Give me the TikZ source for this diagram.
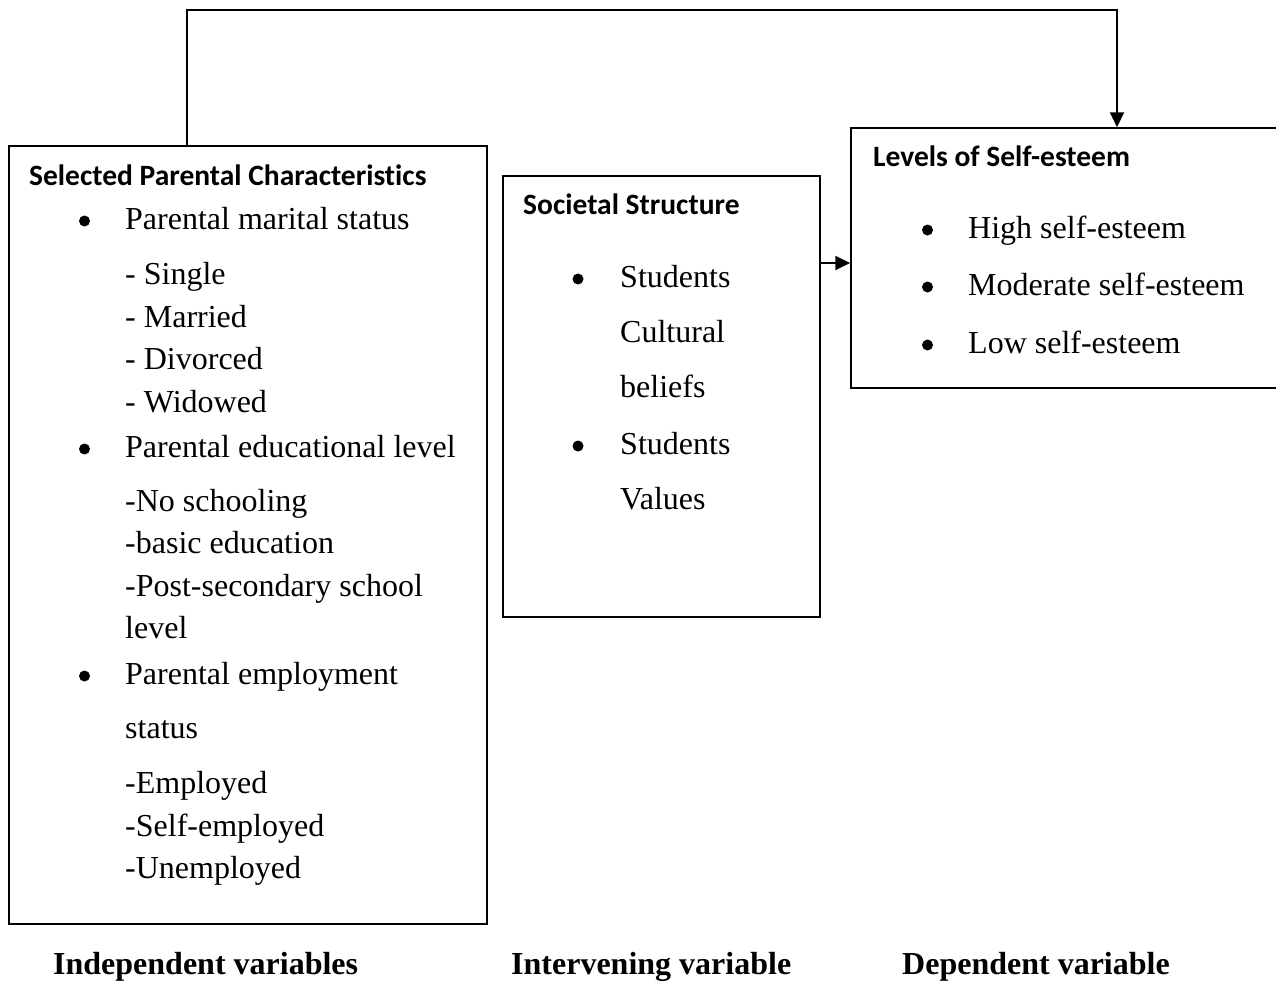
\documentclass[tikz,border=0pt]{standalone}
\usepackage{fontspec}
\setmainfont{Liberation Serif}
\newfontfamily\calibri[Ligatures={NoCommon}]{Carlito}
\usetikzlibrary{arrows.meta}
\tikzset{
  box/.style={draw, line width=1.5pt, rectangle, inner sep=0pt},
  body/.style={anchor=base west, inner sep=0pt, font=\fontsize{32}{38}\selectfont},
  head/.style={anchor=base west, inner sep=0pt, font=\calibri\bfseries\fontsize{29.5}{35}\selectfont},
  foot/.style={anchor=base west, inner sep=0pt, font=\bfseries\fontsize{32}{38}\selectfont},
  dot/.style={circle, fill, inner sep=0pt, minimum size=11pt},
  conn/.style={line width=2pt},
  tip/.style={-{Triangle[length=15pt,width=14pt]}}
}
\begin{document}
\begin{tikzpicture}[x=1pt,y=-1pt]
\useasboundingbox (0,0) rectangle (1276,985);
\clip (0,0) rectangle (1276,985);
% boxes
\node[box, minimum width=478pt, minimum height=778pt] (L) at (248,535) {};
\node[box, minimum width=317pt, minimum height=441pt] (M) at (661.5,396.5) {};
\node[box, minimum width=440pt, minimum height=260pt] (R) at (1071,258) {};
% left box text
\node[head] (lh) at (29,185) {Selected Parental Characteristics};
\node[dot] (lb1) at (84.5,221) {};
\node[body] (l1) at (125,229) {Parental marital status};
\node[body] (l2) at (125,284) {- Single};
\node[body] (l3) at (125,327) {- Married};
\node[body] (l4) at (125,369) {- Divorced};
\node[body] (l5) at (125,412) {- Widowed};
\node[dot] (lb2) at (84.5,449) {};
\node[body] (l6) at (125,457) {Parental educational level};
\node[body] (l7) at (125,511) {-No schooling};
\node[body] (l8) at (125,553) {-basic education};
\node[body] (l9) at (125,596) {-Post-secondary school};
\node[body] (l10) at (125,638) {level};
\node[dot] (lb3) at (84.5,676) {};
\node[body] (l11) at (125,684) {Parental employment};
\node[body] (l12) at (125,738) {status};
\node[body] (l13) at (125,793) {-Employed};
\node[body] (l14) at (125,836) {-Self-employed};
\node[body] (l15) at (125,878) {-Unemployed};
% middle box text
\node[head] (mh) at (523,214) {Societal Structure};
\node[dot] (mb1) at (578,279) {};
\node[body] (m1) at (620,287) {Students};
\node[body] (m2) at (620,342) {Cultural};
\node[body] (m3) at (620,397) {beliefs};
\node[dot] (mb2) at (578,446) {};
\node[body] (m4) at (620,454) {Students};
\node[body] (m5) at (620,509) {Values};
% right box text
\node[head] (rh) at (873,166) {Levels of Self-esteem};
\node[dot] (rb1) at (927.5,230) {};
\node[body] (r1) at (968,238) {High self-esteem};
\node[dot] (rb2) at (927.5,287) {};
\node[body] (r2) at (968,295) {Moderate self-esteem};
\node[dot] (rb3) at (927.5,345) {};
\node[body] (r3) at (968,353) {Low self-esteem};
% footer labels
\node[foot] (f1) at (53,974) {Independent variables};
\node[foot] (f2) at (511,974) {Intervening variable};
\node[foot] (f3) at (902,974) {Dependent variable};
% connectors
\coordinate (t1) at (187,10);
\coordinate (t2) at (1117,10);
\coordinate (a) at (835,263);
\draw[conn, tip] (L.north -| t1) -- (t1) -- (t2) -- (R.north -| t2);
\draw[conn, tip] (M.east |- a) -- (R.west |- a);
\end{tikzpicture}
\end{document}
